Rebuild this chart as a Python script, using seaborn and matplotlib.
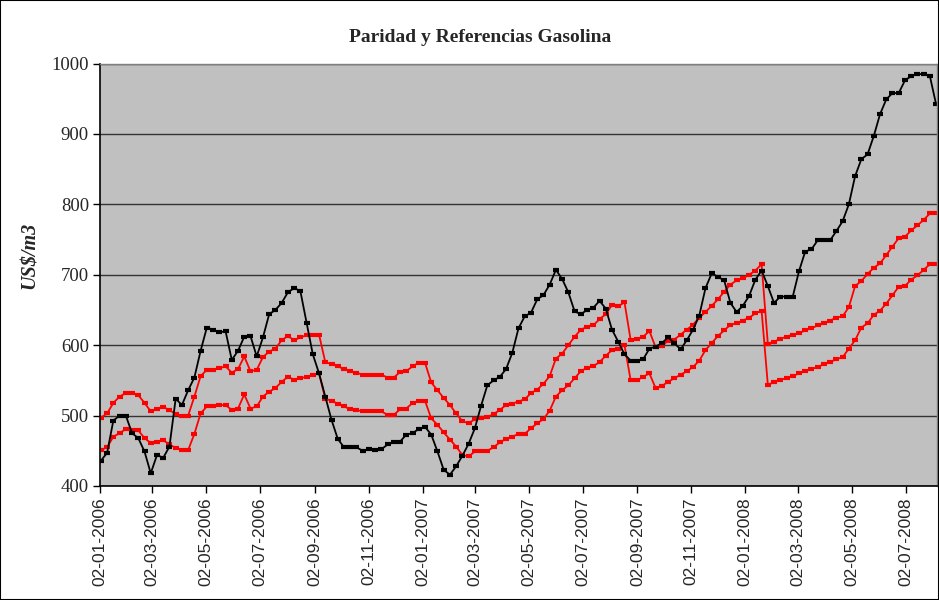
import numpy as np
import pandas as pd
import matplotlib
matplotlib.use("Agg")
import matplotlib.pyplot as plt
import matplotlib.dates as mdates
from matplotlib.patches import Rectangle
import seaborn as sns

# ---------------- data ----------------
start_date = "2006-01-03"
end_date = "2008-08-05"

paridad = [
    436, 447, 493, 500, 500, 475, 468, 449, 418, 444, 440, 456, 524, 515, 536, 554, 592, 625, 622, 618,
    620, 579, 592, 612, 613, 584, 611, 644, 650, 660, 675, 681, 677, 632, 587, 560, 527, 494, 467,
    455, 455, 455, 450, 452, 451, 452, 459, 462, 463, 473, 475, 481, 484, 473, 449, 423, 416, 428,
    443, 460, 482, 514, 543, 550, 555, 566, 589, 624, 641, 646, 665, 671, 686, 707, 694, 675, 648,
    644, 650, 653, 663, 652, 622, 605, 587, 578, 578, 580, 595, 598, 603, 611, 603, 594, 607, 622,
    642, 681, 702, 697, 692, 660, 647, 656, 670, 693, 706, 684, 660, 669, 669, 669, 705, 733, 736,
    749, 749, 749, 762, 776, 800, 840, 864, 871, 897, 928, 949, 958, 958, 976, 982, 985, 985, 982, 942,
]

ref_superior = [
    497, 503, 518, 527, 532, 532, 529, 518, 506, 510, 512, 508, 502, 500, 500, 527, 556, 565, 565, 567,
    570, 561, 566, 584, 563, 565, 583, 591, 595, 607, 613, 607, 611, 614, 615, 615, 576, 573, 570,
    566, 563, 561, 558, 558, 558, 558, 554, 554, 562, 563, 570, 575, 575, 547, 536, 525, 515, 503,
    492, 489, 495, 497, 498, 502, 508, 515, 517, 520, 523, 532, 537, 545, 556, 581, 588, 600, 612,
    622, 626, 628, 637, 644, 657, 655, 661, 607, 609, 612, 620, 597, 599, 606, 608, 615, 622, 629,
    639, 647, 656, 665, 676, 686, 692, 695, 700, 706, 715, 602, 605, 609, 612, 615, 617, 621, 624,
    628, 631, 635, 639, 641, 654, 684, 691, 701, 710, 716, 728, 740, 752, 754, 763, 770, 778, 787, 788,
]

ref_inferior = [
    451, 455, 470, 475, 481, 480, 479, 468, 461, 463, 465, 459, 454, 451, 451, 474, 503, 513, 514, 515,
    515, 508, 510, 530, 510, 513, 527, 534, 539, 548, 555, 551, 553, 555, 558, 560, 524, 521, 517,
    513, 509, 508, 506, 506, 506, 506, 501, 501, 509, 510, 518, 521, 521, 496, 487, 476, 466, 456,
    444, 442, 449, 450, 450, 455, 462, 467, 470, 474, 474, 482, 489, 495, 507, 527, 536, 543, 553,
    563, 568, 570, 576, 585, 593, 594, 600, 550, 550, 555, 560, 539, 542, 548, 553, 558, 563, 569,
    578, 593, 603, 613, 621, 629, 631, 635, 639, 645, 649, 544, 547, 551, 553, 556, 560, 563, 566,
    569, 573, 576, 580, 583, 595, 607, 625, 631, 643, 649, 659, 671, 683, 684, 693, 699, 707, 715, 715,
]

tick_dates = [
    "2006-01-02", "2006-03-02", "2006-05-02", "2006-07-02", "2006-09-02", "2006-11-02",
    "2007-01-02", "2007-03-02", "2007-05-02", "2007-07-02", "2007-09-02", "2007-11-02",
    "2008-01-02", "2008-03-02", "2008-05-02", "2008-07-02",
]
y_ticks = [400, 500, 600, 700, 800, 900, 1000]
title_text = "Paridad y Referencias Gasolina"
ylabel_text = "US$/m3"

# ---------------- frame ----------------
fechas = pd.date_range(start_date, end_date, periods=len(paridad))
df = pd.DataFrame({
    "fecha": fechas,
    "Ref. superior": ref_superior,
    "Ref. inferior": ref_inferior,
    "Paridad": paridad,
})
long_df = df.melt("fecha", var_name="serie", value_name="valor")

sns.set_style("white")
plt.rcParams["font.family"] = ["Liberation Serif", "DejaVu Serif"]

W, H = 939, 600
fig = plt.figure(figsize=(W / 100, H / 100), dpi=100)
fig.patch.set_facecolor("white")
ax = fig.add_axes([100 / W, 1 - 486 / H, 837 / W, (486 - 63.5) / H])
ax.set_facecolor("#C0C0C0")

palette = {"Ref. superior": "#FF0000", "Ref. inferior": "#FF0000", "Paridad": "#000000"}
sns.lineplot(
    data=long_df, x="fecha", y="valor", hue="serie",
    hue_order=["Ref. superior", "Ref. inferior", "Paridad"],
    palette=palette, marker="_", markersize=4.5, markeredgewidth=3,
    linewidth=1.3, legend=False, sort=False, ax=ax,
)
for ln in ax.lines:
    c = ln.get_color()
    ln.set_markeredgecolor(c)
    ln.set_markerfacecolor(c)
    ln.set_markeredgewidth(3)

ax.set_xlim(pd.Timestamp("2006-01-02"), pd.Timestamp("2008-08-06"))
ax.set_ylim(400, 1000)
ax.set_yticks(y_ticks)
ax.set_yticklabels([str(v) for v in y_ticks], fontsize=13.5, family="Liberation Serif")
xt = pd.to_datetime(tick_dates)
ax.set_xticks(xt)
ax.set_xticklabels([d.strftime("%d-%m-%Y") for d in xt], rotation=90,
                   fontsize=12.5, family="Liberation Sans")
ax.set_xlabel("")
ax.set_ylabel("")

ax.yaxis.grid(True, color="#333333", linewidth=1.0)
ax.xaxis.grid(False)
ax.set_axisbelow(True)

for s in ["left", "bottom"]:
    ax.spines[s].set_color("black")
    ax.spines[s].set_linewidth(1.2)
for s in ["top", "right"]:
    ax.spines[s].set_color("#808080")
    ax.spines[s].set_linewidth(1.0)

ax.tick_params(axis="both", direction="out", length=5, width=1, color="black",
               left=True, bottom=True, pad=3)

fig.text(0.511, 1 - 38 / H, title_text, ha="center", va="center",
         fontsize=14, fontweight="bold", family="Liberation Serif")
fig.text(30 / W, 1 - 255 / H, ylabel_text, ha="center", va="center", rotation=90,
         fontsize=14.5, fontweight="bold", fontstyle="italic", family="Liberation Serif")

fig.add_artist(Rectangle((0, 0), 1, 1, transform=fig.transFigure, fill=False,
                         edgecolor="black", linewidth=1.5))

fig.savefig("out.png", dpi=100)
